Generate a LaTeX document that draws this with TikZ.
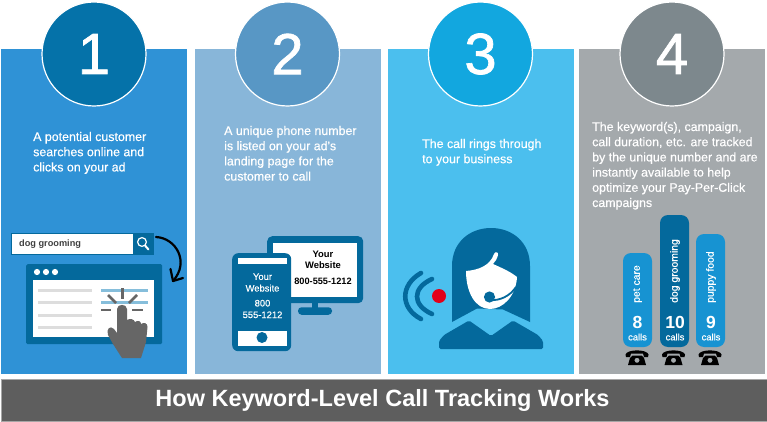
\documentclass[tikz,border=0pt]{standalone}
\usepackage{fontspec}
\setmainfont{Liberation Sans}
\newfontfamily\stepfont[FakeBold=0.4]{Liberation Sans}
\newfontfamily\digitfont[FakeBold=1.2]{Liberation Sans}
\definecolor{panelA}{HTML}{2F92D6}
\definecolor{panelB}{HTML}{88B6D9}
\definecolor{panelC}{HTML}{4BBFEE}
\definecolor{panelD}{HTML}{A4A9AC}
\definecolor{discA}{HTML}{0572A9}
\definecolor{discB}{HTML}{5897C5}
\definecolor{discC}{HTML}{12A7DF}
\definecolor{discD}{HTML}{7D888D}
\definecolor{deepblue}{HTML}{04699C}
\definecolor{barblue}{HTML}{1793D2}
\definecolor{handgray}{HTML}{666666}
\definecolor{linegray}{HTML}{DDDDDD}
\definecolor{linkblue}{HTML}{86BEDB}
\definecolor{footgray}{HTML}{5E5E5E}
\definecolor{dotred}{HTML}{E2001A}
\tikzset{
  panel/.style={minimum width=186.5pt,minimum height=325pt,inner sep=0pt,anchor=north west},
  disc/.style={circle,draw=white,line width=1.2pt,minimum size=104pt,inner sep=0pt,text=white,font=\digitfont\fontsize{58}{58}\selectfont},
  steptext/.style={anchor=north west,align=left,text=white,inner sep=0pt,font=\stepfont\fontsize{12.4}{15.2}\selectfont},
  screentext/.style={align=center,inner sep=0pt,font=\fontsize{9.4}{11.6}\bfseries},
  barlabel/.style={rotate=90,anchor=west,text=white,inner sep=0pt,font=\stepfont\fontsize{10.4}{10}\selectfont},
  barnum/.style={text=white,inner sep=0pt,font=\fontsize{17.5}{17}\bfseries},
  barcalls/.style={text=white,inner sep=0pt,font=\stepfont\fontsize{9.4}{9}\selectfont},
  bar/.style={rounded corners=8pt,fill=barblue},
  ray/.style={handgray,line width=2.6pt},
  textline/.style={linegray,line width=3pt},
  hitline/.style={linkblue,line width=3pt}
}
\begin{document}
\begin{tikzpicture}[x=1pt,y=-1pt]
\useasboundingbox (0,0) rectangle (767,422);
\fill[white] (0,0) rectangle (767,422);

% panels
\node[panel,fill=panelA,minimum width=186pt] (panela) at (1,49) {};
\node[panel,fill=panelB,minimum width=186pt] (panelb) at (195,49) {};
\node[panel,fill=panelC] (panelc) at (387.5,49) {};
\node[panel,fill=panelD,minimum width=186pt] (paneld) at (579,49) {};

% numbers
\node[disc,fill=discA] (discone) at (94,54) {1};
\node[disc,fill=discB] (disctwo) at (287.5,54) {2};
\node[disc,fill=discC] (discthree) at (480.5,54) {3};
\node[disc,fill=discD] (discfour) at (672,54) {4};

% step texts
\node[steptext] (textone) at (33,131.8) {A potential customer\\searches online and\\clicks on your ad};
\node[steptext] (texttwo) at (224,125.8) {A unique phone number\\is listed on your ad's\\landing page for the\\customer to call};
\node[steptext] (textthree) at (422,138.8) {The call rings through\\to your business};
\node[steptext] (textfour) at (592,121.8) {The keyword(s), campaign,\\call duration, etc. are tracked\\by the unique number and are\\instantly available to help\\optimize your Pay-Per-Click\\campaigns};

% search box
\node[draw=deepblue,fill=white,line width=1pt,minimum width=142pt,minimum height=21pt,inner sep=0pt] (searchbox) at (82,243.5) {};
\node[anchor=west,inner sep=0pt,font=\fontsize{9.2}{10}\bfseries,text=black!75] (searchword) at (19,244) {dog grooming};
\node[fill=deepblue,minimum width=20pt,minimum height=21pt,inner sep=0pt] (searchicon) at (143,243.5) {};
\draw[white,line width=1.2pt] (142,242) circle (4.4);
\draw[white,line width=2pt,line cap=round] (145,245.5) -- (148.5,249.5);

% curved arrow
\coordinate (arrowstart) at (156,237);
\coordinate (arrowend) at (173,281);
\draw[black,line width=2.2pt,line cap=round] (arrowstart) .. controls (176,238) and (190,262) .. (arrowend);
\draw[black,line width=2.2pt,line cap=round,line join=round] (170.5,269) -- (arrowend) -- (183,278);

% browser window
\node[panel,fill=deepblue,rounded corners=1.5pt,minimum width=136pt,minimum height=80pt] (browser) at (26,264) {};
\node[panel,fill=white,minimum width=121pt,minimum height=57pt] (page) at (33,280) {};
\foreach \x in {37,46,55}
  \fill[white] (\x,272) circle (3.1);
\foreach \y in {290,302,315,327}
  \draw[textline] (38,\y) -- (92,\y);
\foreach \y in {290,302}
  \draw[hitline] (101,\y) -- (148,\y);

% hand
\draw[ray] (122.5,288) -- (122.5,299);
\draw[ray] (108,295) -- (116,303);
\draw[ray] (137,295) -- (129,303);
\draw[ray] (101,310) -- (111,310);
\draw[ray] (132,310) -- (143,310);
\fill[handgray] (117,309) .. controls (117,303.5) and (127,303.5) .. (127,309)
  -- (127,320) .. controls (130,318) and (134,319) .. (135,322)
  .. controls (138,320) and (141,321) .. (141,324)
  .. controls (144,322) and (147.5,323) .. (147.5,327)
  -- (146,342) -- (141,358) -- (122,358) -- (113,344) -- (108,335)
  .. controls (106,329) and (110,325) .. (114,329) -- (117,333) -- cycle;

% monitor
\node[panel,fill=deepblue,rounded corners=5pt,minimum width=96pt,minimum height=67pt] (monitor) at (267,236) {};
\node[panel,fill=white,minimum width=84pt,minimum height=54pt] (screen) at (273,243) {};
\fill[deepblue] (312,303) rectangle (318,308);
\node[fill=deepblue,rounded corners=3.5pt,minimum width=34pt,minimum height=7.5pt,inner sep=0pt] (monitorbase) at (315,311) {};
\node[screentext] (monitorname) at (323,260) {Your\\Website};
\node[screentext,font=\fontsize{9.2}{11}\bfseries] (monitornum) at (323,281) {800-555-1212};

% phone
\node[panel,fill=deepblue,rounded corners=6pt,minimum width=59pt,minimum height=98pt] (phone) at (232,253) {};
\node[panel,fill=white,minimum width=49pt,minimum height=6pt] (phonetop) at (237.5,258) {};
\node[panel,fill=white,minimum width=49pt,minimum height=15pt] (phonebottom) at (237.5,331) {};
\node[circle,fill=deepblue,minimum size=11pt,inner sep=0pt] (phonebutton) at (262,337.5) {};
\node[screentext,text=white,font=\stepfont\fontsize{9.4}{11.6}\selectfont] (phonename) at (262.5,282.5) {Your\\Website};
\node[screentext,text=white,font=\stepfont\fontsize{9.4}{11.6}\selectfont] (phonenum) at (262.5,309) {800\\555-1212};

% agent
\fill[deepblue] (452,322) -- (452,266) .. controls (452,242) and (470,228) .. (491,228)
  .. controls (512,228) and (530,242) .. (530,266) -- (530,322) -- (503,309.5) -- (477,308.5) -- cycle;
\fill[deepblue,rounded corners=1.5pt] (439,349) -- (439,341) -- (444,335) -- (469,320.5) -- (491,336) -- (513,320.5)
  -- (538,335) -- (543,341) -- (543,349) -- cycle;
\fill[white] (466,271) .. controls (478,270) and (490,266) .. (494,254)
  .. controls (495,251) and (499,252) .. (498,255) .. controls (497,259) and (495,262) .. (493,264)
  .. controls (502,268) and (511,272) .. (517,277)
  .. controls (516,296) and (503,309) .. (490,309)
  .. controls (475,309) and (466,292) .. (466,271) -- cycle;
\draw[deepblue,line width=1.8pt] (489.5,300) .. controls (500,301) and (510,296) .. (516,287);
\fill[deepblue] (489.5,297) circle (5.6);

% ringing
\node[circle,fill=dotred,minimum size=14pt,inner sep=0pt] (ringdot) at (439,296) {};
\draw[deepblue,line width=4.6pt,line cap=round] (432,279) .. controls (412,288) and (412,305) .. (432,314);
\draw[deepblue,line width=4.6pt,line cap=round] (421,273) .. controls (400,285) and (400,308) .. (421,319);

% bars
\fill[bar] (623,253) rectangle (652,347);
\fill[bar,fill=deepblue] (660,215) rectangle (689,347);
\fill[bar] (696,234) rectangle (725,347);
\node[barlabel] (carelabel) at (637.5,303) {pet care};
\node[barlabel] (groomlabel) at (675,303) {dog grooming};
\node[barlabel] (foodlabel) at (711,303) {puppy food};
\node[barnum] (carenum) at (637.5,322) {8};
\node[barnum] (groomnum) at (675,322) {10};
\node[barnum] (foodnum) at (711,322) {9};
\node[barcalls] (carecalls) at (637.5,337) {calls};
\node[barcalls] (groomcalls) at (675,337) {calls};
\node[barcalls] (foodcalls) at (711,337) {calls};

% telephones
\foreach \x in {637,673.5,710}{
  \fill[black,even odd rule] (\x-7,358) -- (\x-4.5,355.5) -- (\x+4.5,355.5) -- (\x+7,358) -- (\x+9,365) -- (\x-9,365) -- cycle
    (\x,360.3) circle (2.6);
  \fill[black] (\x-11.5,354.5) .. controls (\x-10,349) and (\x+10,349) .. (\x+11.5,354.5)
    -- (\x+11,357) -- (\x+7,357) -- (\x+6,353.5) -- (\x-6,353.5) -- (\x-7,357) -- (\x-11,357) -- cycle;
}

% footer
\node[panel,fill=footgray,draw=gray!70,line width=0.8pt,minimum width=766pt,minimum height=42pt] (footer) at (1,379) {};
\node[text=white,inner sep=0pt,font=\fontsize{23.5}{24}\bfseries] (title) at (382.5,400) {How Keyword-Level Call Tracking Works};
\end{tikzpicture}
\end{document}
